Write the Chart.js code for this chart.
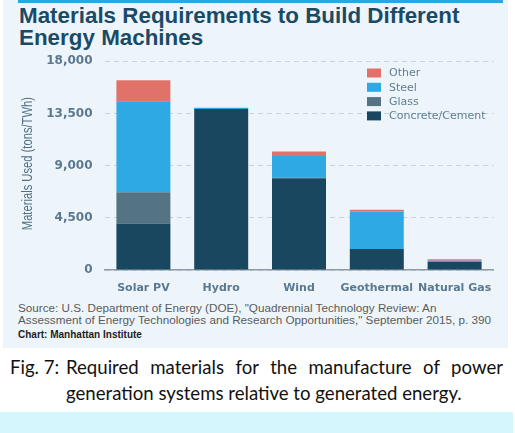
<!DOCTYPE html>
<html>
<head>
<meta charset="utf-8">
<script src="https://cdn.jsdelivr.net/npm/chart.js@4.4.1/dist/chart.umd.min.js"></script>
<style>
  html, body { margin:0; padding:0; background:#ffffff; }
  body { width:515px; height:433px; position:relative; overflow:hidden; }
  #panel { position:absolute; left:3px; top:0; width:505px; height:348px; background:#eef5fa; }
  #topbar { position:absolute; left:18px; top:0; width:485px; height:3px; background:#2ba6df; }
  #title { position:absolute; left:19px; top:5px; font:bold 22.4px "Liberation Sans", Arial, sans-serif; line-height:22px; color:#1b4a66; }
  #wrap { position:absolute; left:0; top:42px; width:515px; height:259px; }
  #source { position:absolute; left:18px; top:302px; font:11.7px "Liberation Sans", Arial, sans-serif; line-height:12px; color:#5b5b5b; white-space:nowrap; }
  #credit { position:absolute; left:18px; top:329px; font:bold 10px "Liberation Sans", Arial, sans-serif; color:#1e1e1e; }
  #caption { position:absolute; left:10px; top:354px; width:493px; display:flex; font:18.6px Lato, "Open Sans", sans-serif; line-height:26px; color:#111; }
  #caption .lab { width:56px; flex:none; }
  #caption .txt { flex:1; text-align:justify; }
  #band { position:absolute; left:0; top:412px; width:513px; height:21px; background:#d5f6fc; }
</style>
</head>
<body>
<div id="panel"></div>
<div id="topbar"></div>
<div id="title">Materials Requirements to Build Different<br>Energy Machines</div>
<div id="wrap"><canvas id="materialsChart" width="515" height="259"></canvas></div>
<div id="source">Source: U.S. Department of Energy (DOE), "Quadrennial Technology Review: An<br>Assessment of Energy Technologies and Research Opportunities," September 2015, p. 390</div>
<div id="credit">Chart: Manhattan Institute</div>
<div id="caption"><span class="lab">Fig. 7:</span><span class="txt">Required materials for the manufacture of power generation systems relative to generated energy.</span></div>
<div id="band"></div>
<script>
// tons per TWh
var categories = ["Solar PV", "Hydro", "Wind", "Geothermal", "Natural Gas"]
var concrete = [4000, 13880, 7900, 1800, 700]
var glass = [2700, 0, 60, 0, 0]
var steel = [7850, 100, 1860, 3250, 100]
var other = [1800, 0, 400, 150, 130]
var yTicks = [0, 4500, 9000, 13500, 18000]
var yTitle = "Materials Used (tons/TWh)"

var tickColor = "#5a7890"
var wideFont = "'DejaVu Sans', sans-serif"

// legend drawn inside the plot, top right, top layer first
var insideLegend = {
    id: "insideLegend",
    afterDraw: function(chart){
        var ctx = chart.ctx
        var sets = chart.data.datasets.slice().reverse()
        ctx.save()
        ctx.font = "11px " + wideFont
        ctx.textBaseline = "middle"
        for(var i=0; i<sets.length; i++){
            var y = 31 + i*14.3
            ctx.fillStyle = sets[i].backgroundColor
            ctx.fillRect(367, y-4.5, 14, 9)
            ctx.fillStyle = "#5f7e93"
            ctx.fillText(sets[i].label, 389, y+0.5)
        }
        ctx.restore()
    }
}

// condensed, rotated axis title (no narrow font installed)
var axisTitle = {
    id: "axisTitle",
    afterDraw: function(chart){
        var ctx = chart.ctx
        var area = chart.chartArea
        ctx.save()
        ctx.translate(28, (area.top + area.bottom)/2 - 2)
        ctx.rotate(-Math.PI/2)
        ctx.scale(0.8, 1)
        ctx.font = "14px 'Liberation Sans', Arial, sans-serif"
        ctx.fillStyle = "#4f6f85"
        ctx.textAlign = "center"
        ctx.textBaseline = "middle"
        ctx.fillText(yTitle, 0, 0)
        ctx.restore()
    }
}

var materialsChart = new Chart(document.getElementById("materialsChart"), {
    type: "bar",
    data: {
        labels: categories,
        datasets: [
            { label: "Concrete/Cement", data: concrete, backgroundColor: "#1a4760" },
            { label: "Glass", data: glass, backgroundColor: "#547484" },
            { label: "Steel", data: steel, backgroundColor: "#2ea9e3" },
            { label: "Other", data: other, backgroundColor: "#e0726a" }
        ]
    },
    options: {
        responsive: false,
        animation: false,
        layout: { padding: { top: 2, right: 21.5, bottom: 0, left: 0 } },
        datasets: { bar: { categoryPercentage: 1, barPercentage: 0.694 } },
        plugins: { legend: { display: false }, tooltip: { enabled: false } },
        scales: {
            x: {
                stacked: true,
                grid: { display: false },
                border: { display: true, color: "#8f9ca6", width: 1.5 },
                ticks: { color: tickColor, font: { family: wideFont, size: 11, weight: "bold" }, padding: 4, maxRotation: 0 },
                afterFit: function(scale){ scale.height = 31 }
            },
            y: {
                stacked: true,
                min: 0,
                max: 18000,
                afterBuildTicks: function(scale){
                    scale.ticks = yTicks.map(function(v){ return { value: v } })
                },
                grid: { color: "#c9d2d9", lineWidth: 1, drawTicks: false },
                border: { display: false, dash: [5, 4] },
                ticks: {
                    color: tickColor,
                    padding: 12,
                    font: { family: wideFont, size: 12, weight: "bold" },
                    callback: function(v){ return v.toLocaleString("en-US") }
                },
                afterFit: function(scale){ scale.width = 104.5 }
            }
        }
    },
    plugins: [insideLegend, axisTitle]
})
</script>
</body>
</html>
